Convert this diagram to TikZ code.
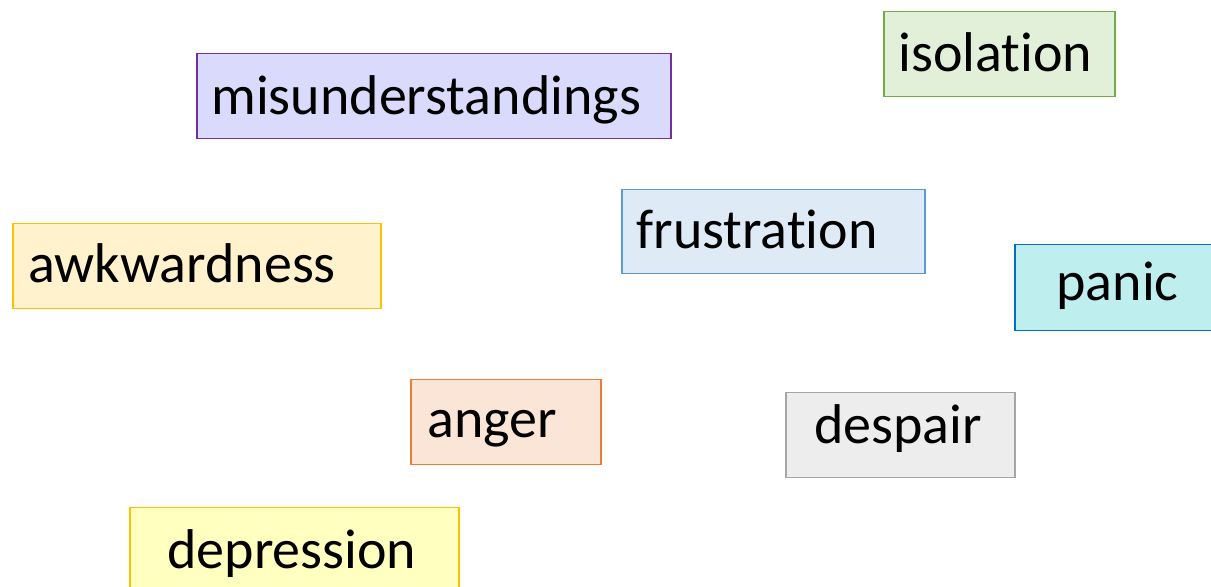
\documentclass[tikz,border=0pt]{standalone}
\usepackage{fontspec}
\setmainfont{Carlito}[Ligatures=NoCommon]
\usepackage{tikz}
\usetikzlibrary{positioning}

\definecolor{misline}{RGB}{112,48,160}  \definecolor{misfill}{RGB}{218,218,252}
\definecolor{isoline}{RGB}{112,173,71}  \definecolor{isofill}{RGB}{226,240,217}
\definecolor{fruline}{RGB}{91,155,213}  \definecolor{frufill}{RGB}{222,235,247}
\definecolor{awkline}{RGB}{255,192,0}   \definecolor{awkfill}{RGB}{255,242,204}
\definecolor{panline}{RGB}{0,112,192}   \definecolor{panfill}{RGB}{190,238,238}
\definecolor{angline}{RGB}{237,125,49}  \definecolor{angfill}{RGB}{251,229,214}
\definecolor{desline}{RGB}{165,165,165} \definecolor{desfill}{RGB}{237,237,237}
\definecolor{depline}{RGB}{255,192,0}   \definecolor{depfill}{RGB}{255,255,192}

\begin{document}
\begin{tikzpicture}[x=0.5pt,y=-0.5pt,
    box/.style={draw=#1line,fill=#1fill,line width=0.75pt,inner sep=0pt,anchor=north west},
    word/.style={anchor=base west,inner sep=0pt,font=\fontsize{28}{34}\selectfont}]
    \clip (0,0) rectangle (1211,587);
    % boxes
    \node[box=mis,minimum width=237pt,minimum height=42.5pt] (mis) at (196,53) {};
    \node[box=iso,minimum width=115.5pt,minimum height=42.5pt] (iso) at (883,11) {};
    \node[box=fru,minimum width=151.5pt,minimum height=42pt] (fru) at (621,189) {};
    \node[box=awk,minimum width=184pt,minimum height=42.5pt] (awk) at (12,223) {};
    \node[box=pan,minimum width=105pt,minimum height=43pt] (pan) at (1014,244) {};
    \node[box=ang,minimum width=95pt,minimum height=42.5pt] (ang) at (410,379) {};
    \node[box=des,minimum width=114.5pt,minimum height=42.5pt] (des) at (785,392) {};
    \node[box=dep,minimum width=164.5pt,minimum height=45pt] (dep) at (129,507) {};
    % words
    \node[word] (mis-t) at (211,115) {misunderstandings};
    \node[word] (iso-t) at (898,72) {isolation};
    \node[word] (fru-t) at (636,249) {frustration};
    \node[word] (awk-t) at (28,283) {awkwardness};
    \node[word] (pan-t) at (1056,301) {panic};
    \node[word] (ang-t) at (427,438) {anger};
    \node[word] (des-t) at (814,444) {despair};
    \node[word] (dep-t) at (167,568) {depression};
\end{tikzpicture}
\end{document}
